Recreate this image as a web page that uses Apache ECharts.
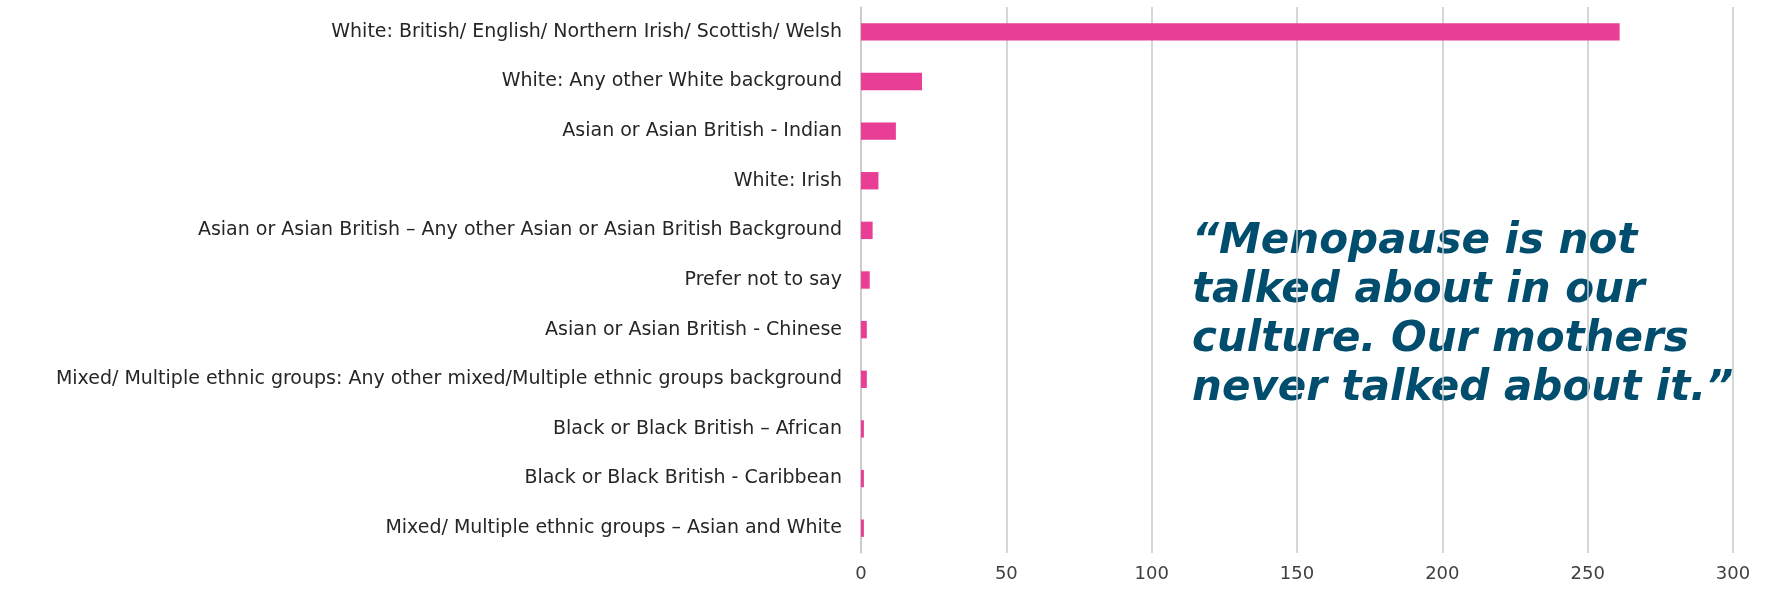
<!DOCTYPE html>
<html>
<head>
<meta charset="utf-8">
<script src="https://cdn.jsdelivr.net/npm/echarts@6/dist/echarts.min.js"></script>
<style>
  html, body { margin: 0; padding: 0; background: #ffffff; }
  #chart { width: 1769px; height: 591px; }
</style>
</head>
<body>
<div id="chart"></div>
<script>
// Ethnic background of respondents (counts)
const categories = [
  'White: British/ English/ Northern Irish/ Scottish/ Welsh',
  'White: Any other White background',
  'Asian or Asian British - Indian',
  'White: Irish',
  'Asian or Asian British \u2013 Any other Asian or Asian British Background',
  'Prefer not to say',
  'Asian or Asian British - Chinese',
  'Mixed/ Multiple ethnic groups: Any other mixed/Multiple ethnic groups background',
  'Black or Black British \u2013 African',
  'Black or Black British - Caribbean',
  'Mixed/ Multiple ethnic groups \u2013 Asian and White'
];
const counts = [261, 21, 12, 6, 4, 3, 2, 2, 1, 1, 1];
const xTicks = { min: 0, max: 300, interval: 50 };
const quoteLines = [
  '\u201CMenopause is not',
  'talked about in our',
  'culture. Our mothers',
  'never talked about it.\u201D'
];

const chart = echarts.init(document.getElementById('chart'));
const font = 'DejaVu Sans';

chart.setOption({
  animation: false,
  backgroundColor: '#ffffff',
  grid: { left: 861, right: 36, top: 7, bottom: 38, containLabel: false },
  xAxis: {
    type: 'value',
    min: xTicks.min,
    max: xTicks.max,
    interval: xTicks.interval,
    axisLine: { show: false },
    axisTick: { show: false },
    splitLine: { show: true, lineStyle: { color: '#c8c8c8', width: 1.5 } },
    axisLabel: { color: '#404040', fontFamily: font, fontSize: 18, margin: 12 }
  },
  yAxis: {
    type: 'category',
    inverse: true,
    data: categories,
    axisLine: { show: true, lineStyle: { color: '#c8c8c8', width: 1.5 } },
    axisTick: { show: false },
    axisLabel: { color: '#262626', fontFamily: font, fontSize: 19, margin: 19 }
  },
  series: [{
    type: 'bar',
    data: counts,
    barCategoryGap: '65%',
    itemStyle: { color: '#e83e96' }
  }],
  graphic: [{
    type: 'text',
    left: 1192,
    top: 218,
    style: {
      text: quoteLines.join('\n'),
      fill: '#004d6e',
      font: 'italic bold 42px "DejaVu Sans"',
      lineHeight: 49
    }
  }]
});
</script>
</body>
</html>
